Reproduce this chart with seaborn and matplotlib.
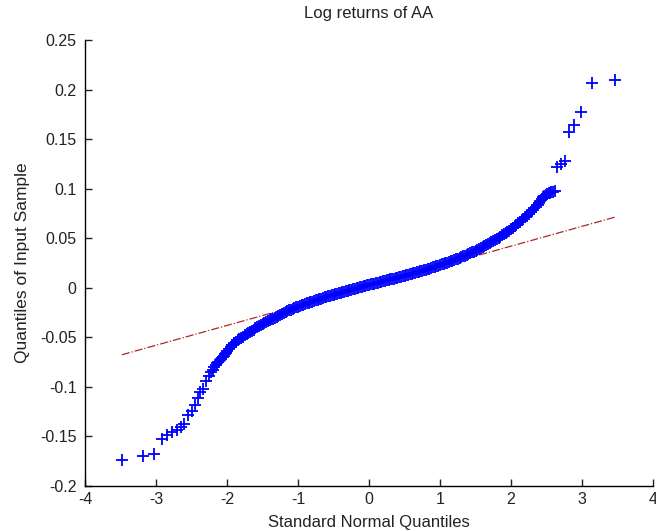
import matplotlib
matplotlib.use("Agg")
import matplotlib.pyplot as plt
import seaborn as sns
import pandas as pd

# Lower tail: sparse extreme quantiles
lower_x = [-3.48, -3.18, -3.03, -2.92, -2.85, -2.78, -2.71, -2.65, -2.60, -2.55,
           -2.50, -2.45, -2.41, -2.38, -2.34, -2.30, -2.26, -2.22, -2.20, -2.18,
           -2.16, -2.14, -2.12, -2.10, -2.08, -2.06, -2.045, -2.03, -2.015]
lower_y = [-0.174, -0.170, -0.1675, -0.153, -0.149, -0.146, -0.143, -0.1405, -0.137, -0.128,
           -0.124, -0.118, -0.111, -0.105, -0.102, -0.0945, -0.0895, -0.085, -0.0825, -0.080,
           -0.078, -0.076, -0.0745, -0.073, -0.0715, -0.070, -0.0685, -0.067, -0.0655]

# Body of the distribution
mid_x = [-2.000, -1.975, -1.950, -1.925, -1.900, -1.875, -1.850, -1.825, -1.800, -1.775,
         -1.750, -1.725, -1.700, -1.675, -1.650, -1.625, -1.600, -1.575, -1.550, -1.525,
         -1.500, -1.475, -1.450, -1.425, -1.400, -1.375, -1.350, -1.325, -1.300, -1.275,
         -1.250, -1.225, -1.200, -1.175, -1.150, -1.125, -1.100, -1.075, -1.050, -1.025,
         -1.000, -0.975, -0.950, -0.925, -0.900, -0.875, -0.850, -0.825, -0.800, -0.775,
         -0.750, -0.725, -0.700, -0.675, -0.650, -0.625, -0.600, -0.575, -0.550, -0.525,
         -0.500, -0.475, -0.450, -0.425, -0.400, -0.375, -0.350, -0.325, -0.300, -0.275,
         -0.250, -0.225, -0.200, -0.175, -0.150, -0.125, -0.100, -0.075, -0.050, -0.025,
         0.000, 0.025, 0.050, 0.075, 0.100, 0.125, 0.150, 0.175, 0.200, 0.225,
         0.250, 0.275, 0.300, 0.325, 0.350, 0.375, 0.400, 0.425, 0.450, 0.475,
         0.500, 0.525, 0.550, 0.575, 0.600, 0.625, 0.650, 0.675, 0.700, 0.725,
         0.750, 0.775, 0.800, 0.825, 0.850, 0.875, 0.900, 0.925, 0.950, 0.975,
         1.000, 1.025, 1.050, 1.075, 1.100, 1.125, 1.150, 1.175, 1.200, 1.225,
         1.250, 1.275, 1.300, 1.325, 1.350, 1.375, 1.400, 1.425, 1.450, 1.475,
         1.500, 1.525, 1.550, 1.575, 1.600, 1.625, 1.650, 1.675, 1.700, 1.725,
         1.750, 1.775, 1.800, 1.825, 1.850, 1.875, 1.900, 1.925, 1.950, 1.975,
         2.000, 2.025, 2.050, 2.075, 2.100, 2.125, 2.150, 2.175, 2.200, 2.225,
         2.250, 2.275, 2.300, 2.325, 2.350, 2.375]
mid_y = [-0.0640, -0.0620, -0.0600, -0.0580, -0.0560, -0.0545, -0.0530, -0.0517, -0.0505, -0.0492,
         -0.0480, -0.0467, -0.0455, -0.0443, -0.0432, -0.0421, -0.0410, -0.0400, -0.0390, -0.0380,
         -0.0370, -0.0360, -0.0350, -0.0340, -0.0330, -0.0320, -0.0310, -0.0300, -0.0290, -0.0281,
         -0.0272, -0.0263, -0.0255, -0.0246, -0.0237, -0.0228, -0.0220, -0.0212, -0.0205, -0.0197,
         -0.0190, -0.0183, -0.0177, -0.0171, -0.0165, -0.0158, -0.0152, -0.0146, -0.0140, -0.0133,
         -0.0127, -0.0121, -0.0115, -0.0109, -0.0103, -0.0097, -0.0092, -0.0086, -0.0081, -0.0075,
         -0.0070, -0.0065, -0.0060, -0.0055, -0.0050, -0.0045, -0.0040, -0.0035, -0.0030, -0.0025,
         -0.0020, -0.0015, -0.0010, -0.0005, 0.0000, 0.0005, 0.0010, 0.0015, 0.0020, 0.0025,
         0.0030, 0.0034, 0.0039, 0.0043, 0.0048, 0.0052, 0.0057, 0.0061, 0.0066, 0.0070,
         0.0075, 0.0079, 0.0084, 0.0088, 0.0093, 0.0097, 0.0102, 0.0106, 0.0111, 0.0115,
         0.0120, 0.0125, 0.0130, 0.0135, 0.0140, 0.0145, 0.0150, 0.0155, 0.0160, 0.0165,
         0.0171, 0.0176, 0.0182, 0.0187, 0.0193, 0.0199, 0.0205, 0.0211, 0.0217, 0.0223,
         0.0230, 0.0236, 0.0242, 0.0248, 0.0255, 0.0261, 0.0267, 0.0273, 0.0280, 0.0287,
         0.0295, 0.0302, 0.0310, 0.0317, 0.0325, 0.0332, 0.0340, 0.0348, 0.0357, 0.0366,
         0.0375, 0.0383, 0.0392, 0.0401, 0.0410, 0.0420, 0.0430, 0.0440, 0.0450, 0.0461,
         0.0472, 0.0483, 0.0495, 0.0506, 0.0517, 0.0528, 0.0540, 0.0552, 0.0565, 0.0577,
         0.0590, 0.0605, 0.0620, 0.0635, 0.0650, 0.0665, 0.0680, 0.0695, 0.0710, 0.0727,
         0.0745, 0.0762, 0.0780, 0.0800, 0.0820, 0.0840]

# Upper tail: sparse extreme quantiles
upper_x = [2.39, 2.41, 2.43, 2.45, 2.47, 2.49, 2.51, 2.53, 2.55, 2.57,
           2.59, 2.62, 2.65, 2.70, 2.76, 2.82, 2.89, 2.99, 3.14, 3.46]
upper_y = [0.086, 0.088, 0.090, 0.092, 0.093, 0.094, 0.095, 0.0955, 0.096, 0.0965,
           0.097, 0.098, 0.122, 0.125, 0.128, 0.157, 0.164, 0.177, 0.207, 0.210]

# Reference line through the quartiles, spanning the data range
ref_x = [-3.48, 3.48]
ref_y = [-0.0676, 0.0716]

x_ticks = [-4, -3, -2, -1, 0, 1, 2, 3, 4]
x_labels = ["-4", "-3", "-2", "-1", "0", "1", "2", "3", "4"]
y_ticks = [-0.2, -0.15, -0.1, -0.05, 0, 0.05, 0.1, 0.15, 0.2, 0.25]
y_labels = ["-0.2", "-0.15", "-0.1", "-0.05", "0", "0.05", "0.1", "0.15", "0.2", "0.25"]

points = pd.DataFrame({
    "theoretical": lower_x + mid_x + upper_x,
    "sample": lower_y + mid_y + upper_y,
})
ref = pd.DataFrame({"theoretical": ref_x, "sample": ref_y})

sns.set_style("white")
plt.rcParams["font.family"] = ["Liberation Sans", "DejaVu Sans"]

fig = plt.figure(figsize=(6.56, 5.31), dpi=100)
ax = fig.add_axes([85 / 656, 1 - 486 / 531, (653 - 85) / 656, (486 - 40) / 531])

sns.lineplot(data=ref, x="theoretical", y="sample", ax=ax, color="#b02525",
             linestyle="-.", linewidth=0.9, zorder=1)
sns.scatterplot(data=points, x="theoretical", y="sample", ax=ax, marker="+",
                color="#0000ff", s=70, linewidth=1.3, zorder=2)

ax.set_xlim(-4, 4)
ax.set_ylim(-0.2, 0.25)
ax.set_xticks(x_ticks)
ax.set_xticklabels(x_labels)
ax.set_yticks(y_ticks)
ax.set_yticklabels(y_labels)

for side in ("top", "right"):
    ax.spines[side].set_visible(False)
for side in ("left", "bottom"):
    ax.spines[side].set_color("black")
    ax.spines[side].set_linewidth(1.0)

ax.tick_params(axis="both", direction="in", length=5, width=1.0, colors="#222222",
               labelsize=11.5, left=True, bottom=True)
ax.tick_params(axis="y", pad=6)
ax.tick_params(axis="x", pad=4)

ax.set_xlabel("Standard Normal Quantiles", fontsize=12, labelpad=6, color="#222222")
ax.set_ylabel("Quantiles of Input Sample", fontsize=12.5, labelpad=7, color="#222222")
ax.set_title("Log returns of AA", fontsize=12, pad=16, color="#222222")

fig.savefig("out.png", dpi=100)
